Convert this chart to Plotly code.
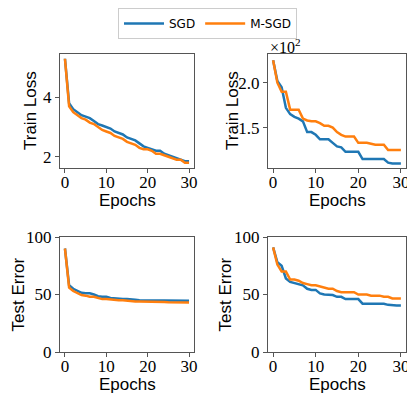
import plotly.graph_objects as go

# Épocas
epochs = list(range(31))

# Train loss (painel superior esquerdo)
train_loss_a_sgd = [5.3, 3.8, 3.6, 3.5, 3.4, 3.35, 3.3, 3.2, 3.1, 3.05, 3.0, 2.95, 2.85, 2.8, 2.75, 2.65,
                    2.6, 2.55, 2.45, 2.35, 2.3, 2.25, 2.2, 2.2, 2.1, 2.05, 2.0, 1.95, 1.9, 1.85, 1.85]
train_loss_a_msgd = [5.3, 3.7, 3.5, 3.4, 3.3, 3.25, 3.15, 3.1, 3.0, 2.9, 2.85, 2.8, 2.7, 2.65, 2.6, 2.5,
                     2.45, 2.4, 2.3, 2.25, 2.25, 2.2, 2.1, 2.1, 2.05, 2.0, 1.95, 1.9, 1.9, 1.8, 1.8]

# Train loss (painel superior direito, valores reais)
train_loss_b_sgd = [225, 202, 195, 172, 165, 162, 160, 157, 145, 145, 142, 137, 137, 137, 133, 129,
                    128, 123, 123, 123, 123, 115, 115, 115, 115, 115, 115, 111, 110, 110, 110]
train_loss_b_msgd = [225, 200, 190, 190, 170, 170, 170, 160, 158, 157, 157, 155, 152, 152, 150, 145,
                     142, 140, 140, 140, 133, 133, 133, 132, 131, 131, 131, 125, 125, 125, 125]

# Test error (painel inferior esquerdo)
test_err_a_sgd = [90, 58, 55, 53, 51.5, 51, 51, 50, 48.5, 48, 48, 47, 46.5, 46.5, 46, 46,
                  46, 45.5, 45, 45, 45, 45, 45, 45, 44.8, 44.8, 44.7, 44.6, 44.5, 44.5, 44.5]
test_err_a_msgd = [90, 56, 53, 51, 49.5, 49, 48, 48, 47, 46, 46, 45.5, 45, 45, 45, 44.5,
                   44.5, 44, 44, 44, 44, 44, 43.8, 43.7, 43.5, 43.3, 43.2, 43, 43, 43, 43]

# Test error (painel inferior direito)
test_err_b_sgd = [91, 78, 75, 64, 61, 60, 59, 58, 55, 54, 54, 51, 50, 50, 49.5, 48,
                  48, 46, 46, 46, 46, 42, 42, 42, 42, 42, 42, 41, 40.5, 40.5, 40.5]
test_err_b_msgd = [91, 76, 70, 70, 63, 63, 62, 60, 59, 58, 58, 57, 56, 55, 55, 53,
                   52, 52, 52, 52, 50, 50, 50, 49, 49, 49, 48, 48, 46.5, 46.5, 46.5]

AZUL = '#1f77b4'
LARANJA = '#ff7f0e'
FONTE_TICK = 'Liberation Serif'
FONTE_TITULO = 'Liberation Sans'

W, H = 415, 399
OFF = 8  # margem padrão do <body> na página


def px_x(p):
    # posição horizontal na página -> coordenada paper
    return (p - OFF) / W


def px_y(p):
    # posição vertical na página (a partir do topo) -> coordenada paper
    return 1 - (p - OFF) / H


# Painéis em pixels da página (esquerda, direita, topo, base)
paineis = [
    (60, 194, 54, 168),
    (268, 406, 54, 168),
    (60, 194, 237, 352),
    (268, 406, 237, 352),
]

series = [
    (train_loss_a_sgd, train_loss_a_msgd),
    ([v / 100 for v in train_loss_b_sgd], [v / 100 for v in train_loss_b_msgd]),
    (test_err_a_sgd, test_err_a_msgd),
    (test_err_b_sgd, test_err_b_msgd),
]

fig = go.Figure()

for i, (sgd, msgd) in enumerate(series):
    sufixo = '' if i == 0 else str(i + 1)
    fig.add_trace(go.Scatter(x=epochs, y=sgd, mode='lines', name='SGD',
                             line={'color': AZUL, 'width': 2.5},
                             xaxis='x' + sufixo, yaxis='y' + sufixo, showlegend=(i == 0)))
    fig.add_trace(go.Scatter(x=epochs, y=msgd, mode='lines', name='M-SGD',
                             line={'color': LARANJA, 'width': 2.5},
                             xaxis='x' + sufixo, yaxis='y' + sufixo, showlegend=(i == 0)))

y_ranges = [[1.62, 5.46], [1.05, 2.32], [0, 100], [0, 100]]
y_ticks = [[2, 4], [1.5, 2.0], [0, 50, 100], [0, 50, 100]]
y_ticktext = [['2', '4'], ['1.5', '2.0'], ['0', '50', '100'], ['0', '50', '100']]
y_titulos = ['Train Loss', 'Train Loss', 'Test Error', 'Test Error']
y_tit_x = [30, 232, 18, 225]  # centro horizontal do título do eixo Y (px da página)

eixo_base = {
    'showgrid': False,
    'zeroline': False,
    'showline': True,
    'mirror': True,
    'automargin': False,
    'linecolor': '#555555',
    'linewidth': 1,
    'ticks': 'outside',
    'ticklen': 4,
    'tickcolor': '#555555',
    'tickfont': {'family': FONTE_TICK, 'size': 17, 'color': 'black'},
}

layout = {}
anotacoes = []
for i, (l, r, t, b) in enumerate(paineis):
    sufixo = '' if i == 0 else str(i + 1)
    layout['xaxis' + sufixo] = dict(eixo_base,
                                    domain=[px_x(l), px_x(r)],
                                    anchor='y' + sufixo,
                                    range=[-1.2, 31.2],
                                    tickvals=[0, 10, 20, 30],
                                    ticklabelstandoff=-5)
    layout['yaxis' + sufixo] = dict(eixo_base,
                                    domain=[px_y(b), px_y(t)],
                                    anchor='x' + sufixo,
                                    range=y_ranges[i],
                                    tickvals=y_ticks[i],
                                    ticktext=y_ticktext[i])
    # Título do eixo X
    anotacoes.append(dict(text='Epochs', xref='paper', yref='paper',
                          x=px_x((l + r) / 2), y=px_y(b + 32),
                          xanchor='center', yanchor='middle', showarrow=False,
                          font={'family': FONTE_TITULO, 'size': 17, 'color': 'black'}))
    # Título do eixo Y
    anotacoes.append(dict(text=y_titulos[i], xref='paper', yref='paper',
                          x=px_x(y_tit_x[i]), y=px_y((t + b) / 2), textangle=-90,
                          xanchor='center', yanchor='middle', showarrow=False,
                          font={'family': FONTE_TITULO, 'size': 17, 'color': 'black'}))

# Texto de offset (×10²)
anotacoes.append(dict(text='×10<sup>2</sup>', xref='paper', yref='paper',
                      x=px_x(268), y=px_y(46), xanchor='left', yanchor='middle',
                      showarrow=False,
                      font={'family': FONTE_TICK, 'size': 16, 'color': 'black'}))

fig.update_layout(
    **layout,
    template='none',
    width=W,
    height=H,
    margin={'l': 0, 'r': 0, 't': 0, 'b': 0, 'autoexpand': False},
    plot_bgcolor='white',
    paper_bgcolor='white',
    annotations=anotacoes,
    showlegend=True,
    legend={
        'orientation': 'h',
        'x': px_x(207.5),
        'y': 1,
        'xanchor': 'center',
        'yanchor': 'top',
        'bordercolor': '#cccccc',
        'borderwidth': 1,
        'font': {'family': 'DejaVu Sans', 'size': 12, 'color': 'black'},
        'itemwidth': 40,
    },
)

fig.write_html("out.html")
